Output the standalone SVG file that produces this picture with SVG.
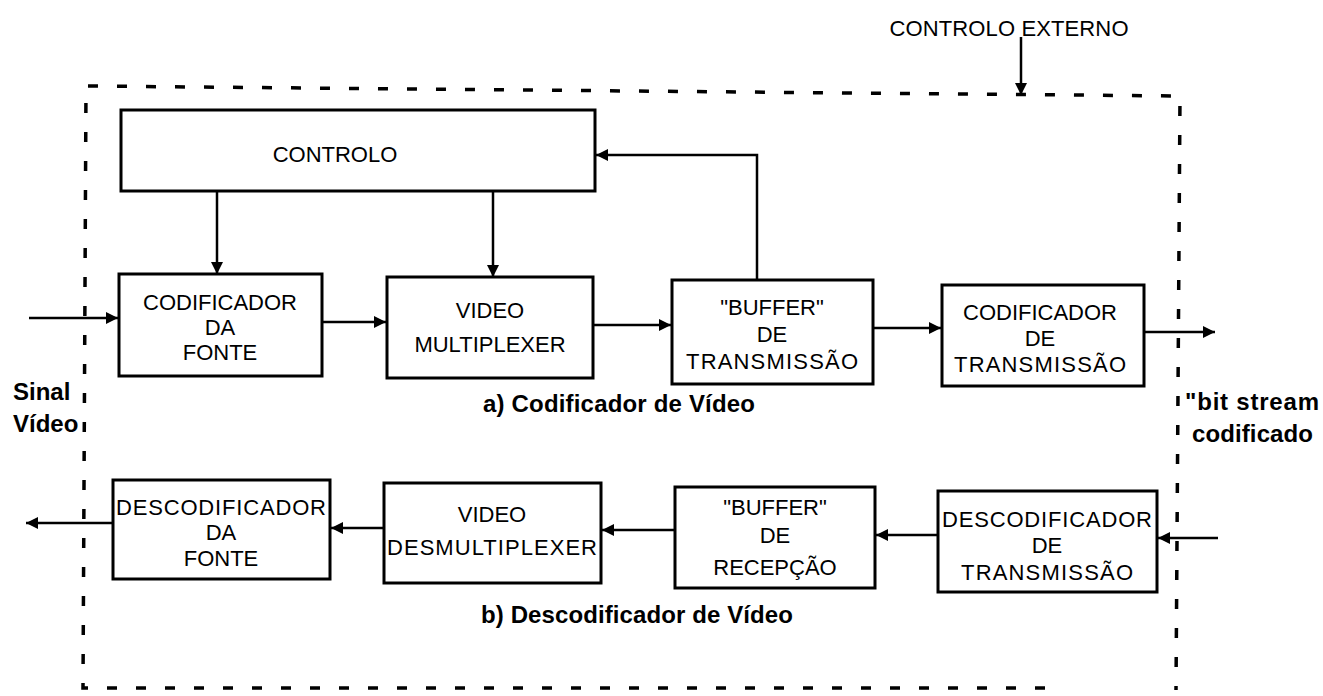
<svg xmlns="http://www.w3.org/2000/svg" width="1323" height="696" viewBox="0 0 1323 696">
<defs>
<marker id="ah" viewBox="0 0 12 12" refX="12" refY="6" markerWidth="12" markerHeight="12" markerUnits="userSpaceOnUse" orient="auto">
<path d="M0,0 L12,6 L0,12 Z" fill="#000"/>
</marker>
<style>
.box{fill:#fff;stroke:#000;stroke-width:3}
.lbl{font-family:"Liberation Sans",Arial,sans-serif;font-size:22px;text-anchor:middle;fill:#000}
.cap{font-family:"Liberation Sans",Arial,sans-serif;font-size:24px;font-weight:bold;fill:#000}
.con{fill:none;stroke:#000;stroke-width:2.5}
.arr{marker-end:url(#ah)}
.dash{fill:none;stroke:#000;stroke-width:3.5;stroke-dasharray:10 19}
</style>
</defs>
<rect width="1323" height="696" fill="#fff"/>

<g id="border">
<path class="dash" d="M1045,688 L83,688 L86,86 L1180,96 L1176,690"/>
</g>

<g id="connectors">
<line class="con arr" x1="1021" y1="37" x2="1021" y2="95"/>
<line class="con arr" x1="217" y1="191" x2="217" y2="274"/>
<line class="con arr" x1="493" y1="192" x2="493" y2="277"/>
<polyline class="con arr" points="757,280 757,155 596,155"/>
<line class="con arr" x1="29" y1="318" x2="118" y2="318"/>
<line class="con arr" x1="322" y1="322" x2="386" y2="322"/>
<line class="con arr" x1="593" y1="325" x2="671" y2="325"/>
<line class="con arr" x1="873" y1="328" x2="941" y2="328"/>
<line class="con arr" x1="1144" y1="332" x2="1215" y2="332"/>
<line class="con arr" x1="1218" y1="538" x2="1158" y2="538"/>
<line class="con arr" x1="938" y1="535" x2="876" y2="535"/>
<line class="con arr" x1="675" y1="530" x2="602" y2="530"/>
<line class="con arr" x1="384" y1="528" x2="331" y2="528"/>
<line class="con arr" x1="113" y1="523" x2="26" y2="523"/>
</g>

<g id="controlo">
<rect class="box" x="121" y="110" width="474" height="81"/>
<text class="lbl" x="335" y="162">CONTROLO</text>
</g>

<g id="codificador-fonte">
<rect class="box" x="119" y="274" width="203" height="102"/>
<text class="lbl" x="220" y="310">CODIFICADOR</text>
<text class="lbl" x="220" y="335">DA</text>
<text class="lbl" x="220" y="360">FONTE</text>
</g>

<g id="video-multiplexer">
<rect class="box" x="387" y="277" width="206" height="101"/>
<text class="lbl" x="490" y="318">VIDEO</text>
<text class="lbl" x="490" y="352">MULTIPLEXER</text>
</g>

<g id="buffer-transmissao">
<rect class="box" x="672" y="280" width="201" height="104"/>
<text class="lbl" x="772" y="315">"BUFFER"</text>
<text class="lbl" x="772" y="342">DE</text>
<text class="lbl" x="772" y="369" textLength="172">TRANSMISSÃO</text>
</g>

<g id="codificador-transmissao">
<rect class="box" x="942" y="285" width="202" height="101"/>
<text class="lbl" x="1040" y="320">CODIFICADOR</text>
<text class="lbl" x="1040" y="346">DE</text>
<text class="lbl" x="1040" y="372" textLength="172">TRANSMISSÃO</text>
</g>

<g id="descodificador-fonte">
<rect class="box" x="113" y="480" width="217" height="99"/>
<text class="lbl" x="221" y="515" textLength="210">DESCODIFICADOR</text>
<text class="lbl" x="221" y="540">DA</text>
<text class="lbl" x="221" y="566">FONTE</text>
</g>

<g id="video-desmultiplexer">
<rect class="box" x="384" y="483" width="217" height="100"/>
<text class="lbl" x="492" y="522">VIDEO</text>
<text class="lbl" x="492" y="555" textLength="210">DESMULTIPLEXER</text>
</g>

<g id="buffer-recepcao">
<rect class="box" x="675" y="487" width="200" height="101"/>
<text class="lbl" x="775" y="515">"BUFFER"</text>
<text class="lbl" x="775" y="543">DE</text>
<text class="lbl" x="775" y="575">RECEPÇÃO</text>
</g>

<g id="descodificador-transmissao">
<rect class="box" x="938" y="491" width="219" height="101"/>
<text class="lbl" x="1047" y="527" textLength="210">DESCODIFICADOR</text>
<text class="lbl" x="1047" y="553">DE</text>
<text class="lbl" x="1047" y="580" textLength="172">TRANSMISSÃO</text>
</g>

<g id="labels">
<text class="lbl" x="1009" y="36" textLength="239">CONTROLO EXTERNO</text>
<text class="cap" x="13" y="400">Sinal</text>
<text class="cap" x="13" y="432">Vídeo</text>
<text class="cap" x="1185" y="410" textLength="134">"bit stream</text>
<text class="cap" x="1192" y="442" textLength="121">codificado</text>
<text class="cap" x="483" y="412" textLength="272">a) Codificador de Vídeo</text>
<text class="cap" x="481" y="623" textLength="312">b) Descodificador de Vídeo</text>
</g>
</svg>
